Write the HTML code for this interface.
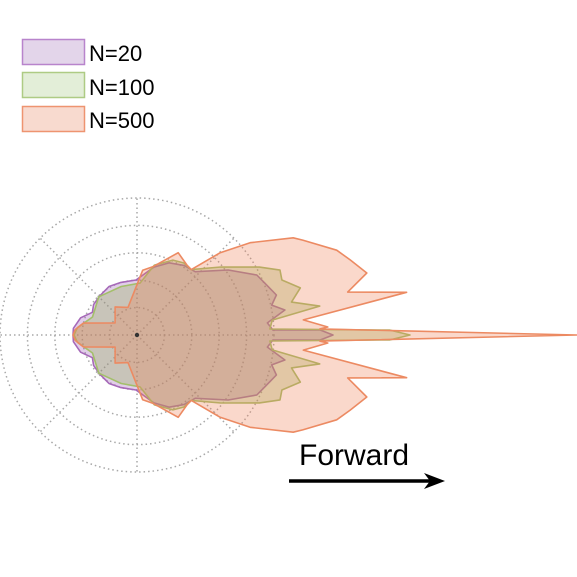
<!DOCTYPE html>
<html><head><meta charset="utf-8">
<style>
html,body{margin:0;padding:0;background:#fff;}
svg{display:block;font-family:"Liberation Sans",Arial,sans-serif;}
</style></head>
<body>
<svg id="chart" width="577" height="577" viewBox="0 0 577 577" xmlns="http://www.w3.org/2000/svg">
  <g id="grid"></g>
  <g id="series"></g>
  <circle cx="137" cy="335" r="2.2" fill="#333"/>
  <g>
    <g>
      <rect x="22.5" y="39.5" width="62" height="25" fill="#e3d5ea" stroke="#b884cc" stroke-width="1.5"/>
      <text x="89" y="61" font-size="22" fill="#000">N=20</text>
    </g>
    <g>
      <rect x="22.5" y="72.5" width="62" height="25" fill="#e3eed8" stroke="#aecb84" stroke-width="1.5"/>
      <text x="89" y="95" font-size="22" fill="#000">N=100</text>
    </g>
    <g>
      <rect x="22.5" y="106.5" width="62" height="25" fill="#f8dacf" stroke="#ee9470" stroke-width="1.5"/>
      <text x="89" y="128" font-size="22" fill="#000">N=500</text>
    </g>
  </g>
  <text x="299" y="465" font-size="30" fill="#000">Forward</text>
  <g>
    <line x1="289" y1="481" x2="430" y2="481" stroke="#000" stroke-width="3.5"/>
    <polygon points="424,473 445,481 424,489 430,481" fill="#000"/>
  </g>
</svg>
<script>
// Polar data (angle in degrees, radius in grid units; outer ring = 137), upper half, mirrored
const ringValues = [27.4, 54.8, 82.2, 109.6, 137];
const spokeAngles = [0, 45, 90, 135, 180, 225, 270, 315];
const n20Angles = [0, 1.6, 2.1, 5.3, 9.6, 12.5, 16, 22, 26.6, 35.5, 47.4, 56, 66, 76, 91, 107, 120, 134, 145, 153, 163, 174, 180];
const n20Radii  = [196, 183, 136, 131, 150, 138, 145, 138, 134, 112, 86, 84, 79, 70, 55, 55, 56, 54, 53, 50, 59, 64, 64];
const n100Angles = [0, 1.1, 2.6, 6.3, 9, 12, 16.1, 20.8, 24.4, 29, 39, 50.3, 56.9, 64.4, 76, 86.7, 108, 135, 158, 173, 180];
const n100Radii  = [273, 253, 133, 136, 185, 158, 170, 155, 157, 140, 108, 85, 86, 83, 72, 52, 51, 54, 48, 60, 63];
const n500Angles = [0, 1.9, 2.4, 5.2, 9.0, 11.5, 15.1, 19.4, 23, 29.8, 31.9, 39.2, 44.7, 50.3, 54.5, 63.4, 77, 85, 108, 128, 151, 167.5, 175, 180];
const n500Radii  = [440, 183, 191, 167, 273, 215, 238, 226, 217, 191, 184, 146, 117, 85, 86, 92, 70, 65, 29, 35.6, 25, 55, 62, 64];

const cx = 137, cy = 335, rMax = 137, vMax = 137;
const NS = "http://www.w3.org/2000/svg";
function rScale(v){ return v / vMax * rMax; }
function px(a, v){ return cx + rScale(v) * Math.cos(a * Math.PI / 180); }
function py(a, v){ return cy - rScale(v) * Math.sin(a * Math.PI / 180); }

const grid = document.getElementById('grid');
ringValues.forEach((v, i) => {
  const c = document.createElementNS(NS, 'circle');
  c.setAttribute('cx', cx); c.setAttribute('cy', cy); c.setAttribute('r', rScale(v));
  c.setAttribute('fill', 'none'); c.setAttribute('stroke', '#a8a8a8');
  c.setAttribute('stroke-width', '1.5'); c.setAttribute('stroke-dasharray', '1.5,3');
  
  
  grid.appendChild(c);
});
spokeAngles.forEach(a => {
  const l = document.createElementNS(NS, 'line');
  l.setAttribute('x1', cx); l.setAttribute('y1', cy);
  l.setAttribute('x2', px(a, vMax)); l.setAttribute('y2', py(a, vMax));
  l.setAttribute('stroke', '#a8a8a8'); l.setAttribute('stroke-width', '1.5');
  l.setAttribute('stroke-dasharray', '1.5,3');
  
  
  grid.appendChild(l);
});

const seriesG = document.getElementById('series');
function drawSeries(angles, radii, fill, stroke, name){
  const pts = [];
  for (let i = 0; i < angles.length; i++) pts.push([px(angles[i], radii[i]), py(angles[i], radii[i])]);
  for (let i = angles.length - 2; i >= 1; i--) pts.push([px(-angles[i], radii[i]), py(-angles[i], radii[i])]);
  const p = document.createElementNS(NS, 'polygon');
  p.setAttribute('points', pts.map(q => q[0].toFixed(1) + ',' + q[1].toFixed(1)).join(' '));
  p.setAttribute('fill', fill); p.setAttribute('fill-opacity', '0.3');
  p.setAttribute('stroke', stroke); p.setAttribute('stroke-width', '1.6');
  p.setAttribute('stroke-linejoin', 'round');
  
  
  seriesG.appendChild(p);
}
drawSeries(n20Angles, n20Radii, '#9b59b6', '#a669b8', 'series-n20');
drawSeries(n100Angles, n100Radii, '#8db04c', '#a3bf6a', 'series-n100');
drawSeries(n500Angles, n500Radii, '#ee7d52', '#ec8a62', 'series-n500');
</script>
</body></html>
